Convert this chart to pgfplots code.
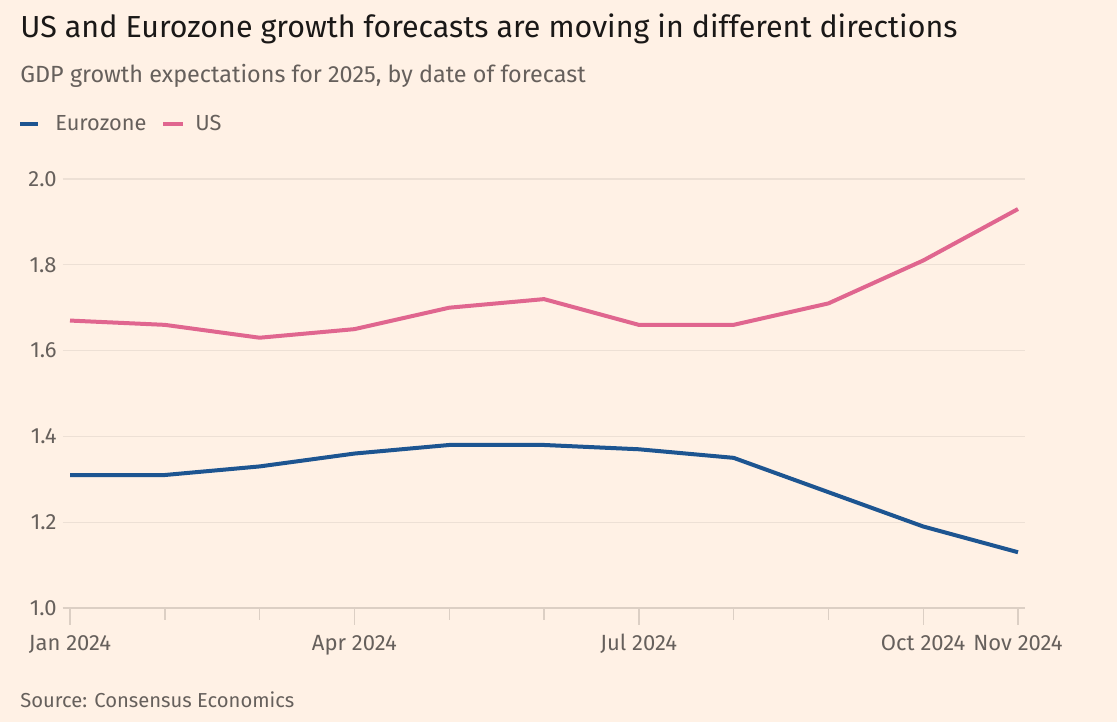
\documentclass[border=0pt]{standalone}
\usepackage{pgfplots}
\pgfplotsset{compat=1.18}
\usepackage{fontspec}
\setmainfont{Fira Sans}
\definecolor{bg}{HTML}{FFF1E5}
\definecolor{ez}{HTML}{1D5591}
\definecolor{us}{HTML}{E0668F}
\definecolor{txt}{HTML}{66605C}
\definecolor{ttl}{HTML}{1A1817}
\definecolor{grd}{HTML}{EDE0D5}
\definecolor{tck}{HTML}{DCCFC4}
\pgfplotstableread{
x ez us
0 1.31 1.67
1 1.31 1.66
2 1.33 1.63
3 1.36 1.65
4 1.38 1.70
5 1.38 1.72
6 1.37 1.66
7 1.35 1.66
8 1.27 1.71
9 1.19 1.81
10 1.13 1.93
}\data
\begin{document}
\begin{tikzpicture}
\fill[bg] (0pt,0pt) rectangle (558.5pt,361pt);
\node[anchor=base west,inner sep=0,text=ttl,font=\fontsize{15.2}{18}\selectfont] at (10pt,342pt) {US and Eurozone growth forecasts are moving in different directions};
\node[anchor=base west,inner sep=0,text=txt,font=\fontsize{11.7}{13}\selectfont] at (10pt,319.5pt) {GDP growth expectations for 2025, by date of forecast};
\draw[ez,line width=2pt] (10pt,299pt) -- (19pt,299pt);
\node[anchor=base west,inner sep=0,text=txt,font=\fontsize{10.9}{12}\selectfont] at (27.5pt,295.5pt) {Eurozone};
\draw[us,line width=2pt] (81.5pt,299pt) -- (91.5pt,299pt);
\node[anchor=base west,inner sep=0,text=txt,font=\fontsize{10.9}{12}\selectfont] at (97.5pt,295.5pt) {US};
\node[anchor=base west,inner sep=0,text=txt,font=\fontsize{10.1}{12}\selectfont] at (10pt,7.5pt) {Source: Consensus Economics};
\begin{axis}[
  at={(31.5pt,57pt)}, anchor=south west,
  scale only axis, width=481pt, height=214.5pt,
  xmin=-0.074, xmax=10.074, ymin=1, ymax=2,
  axis lines=none,
  clip=false,
  xtick=\empty, ytick=\empty,
]
\foreach \v/\l in {1/1.0,1.2/1.2,1.4/1.4,1.6/1.6,1.8/1.8,2/2.0}{
  \edef\tmp{\noexpand\draw[grd,line width=0.6pt] (axis cs:-0.074,\v) -- (axis cs:10.074,\v);
  \noexpand\node[anchor=east,text=txt,inner sep=0,font=\noexpand\fontsize{11}{12}\noexpand\selectfont] at ([xshift=-3pt]axis cs:-0.074,\v) {\l};}
  \tmp
}
\draw[tck,line width=0.6pt] (axis cs:-0.074,1) -- (axis cs:10.074,1);
\foreach \t in {0,3,6,9,10}{
  \edef\tmp{\noexpand\draw[tck,line width=0.7pt] (axis cs:\t,1) -- ([yshift=-8.5pt]axis cs:\t,1);}\tmp
}
\foreach \t in {1,2,4,5,7,8}{
  \edef\tmp{\noexpand\draw[tck,line width=0.7pt] (axis cs:\t,1) -- ([yshift=-6pt]axis cs:\t,1);}\tmp
}
\foreach \t/\l in {0/Jan 2024,3/Apr 2024,6/Jul 2024,9/Oct 2024,10/Nov 2024}{
  \edef\tmp{\noexpand\node[anchor=base,text=txt,inner sep=0,font=\noexpand\fontsize{11}{12}\noexpand\selectfont] at ([yshift=-21pt]axis cs:\t,1) {\l};}\tmp
}
\addplot[us,line width=2pt,line join=round] table[x=x,y=us]{\data};
\addplot[ez,line width=2pt,line join=round] table[x=x,y=ez]{\data};
\end{axis}
\end{tikzpicture}
\end{document}
